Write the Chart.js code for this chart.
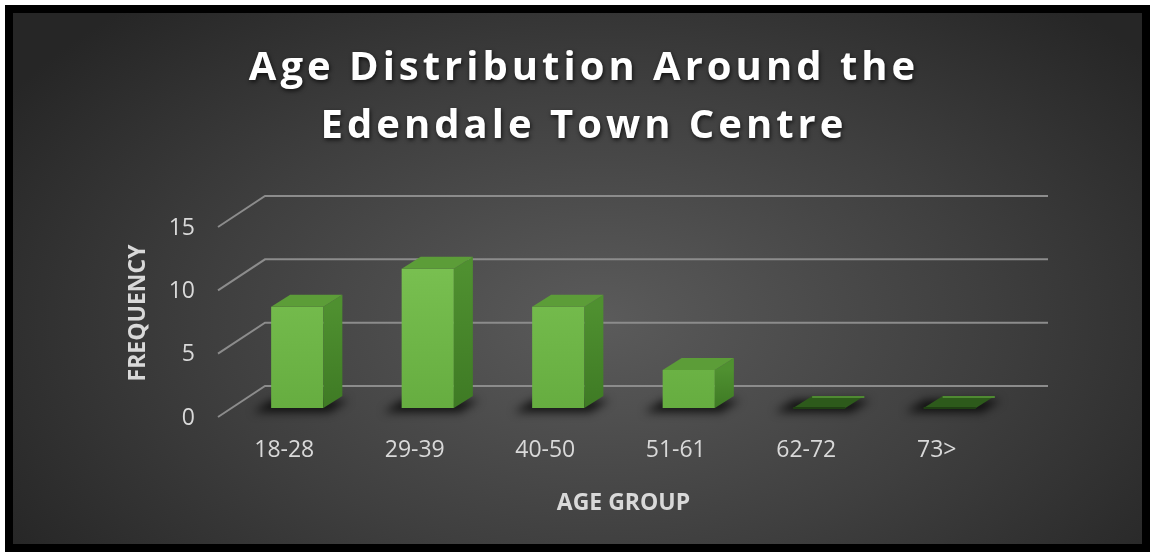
<!DOCTYPE html>
<html lang="en">
<head>
<meta charset="UTF-8">
<meta name="viewport" content="width=device-width, initial-scale=1.0">
<title>Age Distribution Around the Edendale Town Centre</title>
<style>
    html, body {
        margin: 0;
        padding: 0;
        background: #ffffff;
    }
    .frame {
        position: absolute;
        left: 5px;
        top: 5px;
        width: 1145px;
        height: 547px;
        box-sizing: border-box;
        border: 8px solid #000000;
        background: radial-gradient(ellipse 62% 80% at 52% 58%, #5b5b5b 0%, #3f3f3f 55%, #262626 100%);
    }
    .frame canvas {
        display: block;
    }
</style>
<script src="https://cdn.jsdelivr.net/npm/chart.js"></script>
</head>
<body>
<div class="frame">
    <canvas id="ageChart" width="1129" height="531"></canvas>
</div>
<script>
    // chart data
    const titleLines = ['Age Distribution Around the', 'Edendale Town Centre'];
    const ageGroups = ['18-28', '29-39', '40-50', '51-61', '62-72', '73>'];
    const frequency = [8, 11, 8, 3, 0, 0];
    const yMin = 0;
    const yMax = 15;
    const yStep = 5;

    // fake 3d offsets (bar depth, back wall, front edge)
    const BAR_DX = 19, BAR_DY = -12;
    const BACK_DX = 33, BACK_DY = -22;
    const FRONT_DX = -14, FRONT_DY = 9;

    const depthPlugin = {
        id: 'depth3d',
        beforeDatasetsDraw(chart) {
            const { ctx, chartArea: a, scales: { y } } = chart;
            ctx.save();
            // gridlines on the back wall + diagonals on the side wall
            ctx.strokeStyle = '#8c8c8c';
            ctx.lineWidth = 2;
            y.ticks.forEach(t => {
                const py = y.getPixelForValue(t.value);
                ctx.beginPath();
                ctx.moveTo(a.left + FRONT_DX, py + FRONT_DY);
                ctx.lineTo(a.left + BACK_DX, py + BACK_DY);
                ctx.lineTo(a.right + BACK_DX, py + BACK_DY);
                ctx.stroke();
            });
            // soft shadows under the bars
            const meta = chart.getDatasetMeta(0);
            ctx.filter = 'blur(5px)';
            ctx.fillStyle = 'rgba(0,0,0,0.8)';
            meta.data.forEach(bar => {
                const { x, base, width } = bar.getProps(['x', 'base', 'width'], true);
                const l = x - width / 2 - 18, r = x + width / 2 + 6;
                ctx.beginPath();
                ctx.moveTo(l, base + 4);
                ctx.lineTo(r, base + 4);
                ctx.lineTo(r + BAR_DX, base + BAR_DY + 4);
                ctx.lineTo(l + BAR_DX, base + BAR_DY + 4);
                ctx.closePath();
                ctx.fill();
            });
            ctx.restore();
        },
        afterDatasetsDraw(chart) {
            const { ctx } = chart;
            const meta = chart.getDatasetMeta(0);
            ctx.save();
            meta.data.forEach(bar => {
                const { x, y, base, width } = bar.getProps(['x', 'y', 'base', 'width'], true);
                const l = x - width / 2, r = x + width / 2;
                const flat = Math.abs(base - y) < 1;

                // right side face
                if (!flat) {
                    const g = ctx.createLinearGradient(0, y, 0, base);
                    g.addColorStop(0, '#4f9030');
                    g.addColorStop(1, '#3e7a24');
                    ctx.fillStyle = g;
                    ctx.beginPath();
                    ctx.moveTo(r, y);
                    ctx.lineTo(r + BAR_DX, y + BAR_DY);
                    ctx.lineTo(r + BAR_DX, base + BAR_DY);
                    ctx.lineTo(r, base);
                    ctx.closePath();
                    ctx.fill();
                }

                // top face
                ctx.fillStyle = flat ? '#2d5a1b' : '#5c9d38';
                ctx.beginPath();
                ctx.moveTo(l, y);
                ctx.lineTo(l + BAR_DX, y + BAR_DY);
                ctx.lineTo(r + BAR_DX, y + BAR_DY);
                ctx.lineTo(r, y);
                ctx.closePath();
                ctx.fill();

                if (flat) {
                    ctx.strokeStyle = '#4f8a32';
                    ctx.lineWidth = 2;
                    ctx.beginPath();
                    ctx.moveTo(l + BAR_DX, y + BAR_DY + 1);
                    ctx.lineTo(r + BAR_DX, y + BAR_DY + 1);
                    ctx.stroke();
                    ctx.strokeStyle = '#1f3f13';
                    ctx.beginPath();
                    ctx.moveTo(l, y);
                    ctx.lineTo(r, y);
                    ctx.stroke();
                }
            });
            ctx.restore();
        },
        afterDraw(chart) {
            const { ctx } = chart;
            ctx.save();
            ctx.font = '700 40px "Open Sans"';
            ctx.letterSpacing = '4px';
            ctx.textAlign = 'center';
            ctx.textBaseline = 'alphabetic';
            ctx.fillStyle = '#ffffff';
            ctx.shadowColor = 'rgba(0,0,0,0.7)';
            ctx.shadowBlur = 4;
            ctx.shadowOffsetX = 1;
            ctx.shadowOffsetY = 2;
            ctx.fillText(titleLines[0], 571, 67);
            ctx.fillText(titleLines[1], 571, 125);
            ctx.restore();
        }
    };

    const ctx = document.getElementById('ageChart').getContext('2d');

    new Chart(ctx, {
        type: 'bar',
        data: {
            labels: ageGroups,
            datasets: [{
                label: 'Frequency',
                data: frequency,
                backgroundColor: (c) => {
                    const area = c.chart.chartArea;
                    if (!area) return '#6fb845';
                    const g = c.chart.ctx.createLinearGradient(0, area.top, 0, area.bottom);
                    g.addColorStop(0, '#7fc656');
                    g.addColorStop(1, '#66ad40');
                    return g;
                },
                borderWidth: 0,
                barPercentage: 0.4,
                categoryPercentage: 1
            }]
        },
        options: {
            responsive: false,
            animation: false,
            layout: {
                padding: { top: 205, right: 127, bottom: 0, left: 0 }
            },
            plugins: {
                legend: { display: false },
                tooltip: { enabled: false },
                title: { display: false }
            },
            scales: {
                x: {
                    grid: { display: false, drawTicks: false },
                    border: { display: false },
                    ticks: {
                        color: '#d9d9d9',
                        font: { family: 'Open Sans', size: 23 },
                        padding: 29,
                        labelOffset: -13,
                        maxRotation: 0
                    },
                    title: {
                        display: true,
                        text: 'AGE GROUP',
                        color: '#d9d9d9',
                        font: { family: 'Open Sans', size: 23, weight: 'bold' },
                        padding: { top: 0, bottom: 27 }
                    },
                    afterFit: (scale) => { scale.height = 136; }
                },
                y: {
                    min: yMin,
                    max: yMax,
                    grid: { display: false, drawTicks: false },
                    border: { display: false },
                    ticks: {
                        stepSize: yStep,
                        color: '#d9d9d9',
                        font: { family: 'Open Sans', size: 23 },
                        padding: 37,
                        labelOffset: 10
                    },
                    title: {
                        display: true,
                        text: 'FREQUENCY',
                        color: '#d9d9d9',
                        font: { family: 'Open Sans', size: 23, weight: 'bold' },
                        padding: { top: 112, bottom: 0 }
                    },
                    afterFit: (scale) => { scale.height; scale.width = 219; }
                }
            }
        },
        plugins: [depthPlugin]
    });
</script>
</body>
</html>
